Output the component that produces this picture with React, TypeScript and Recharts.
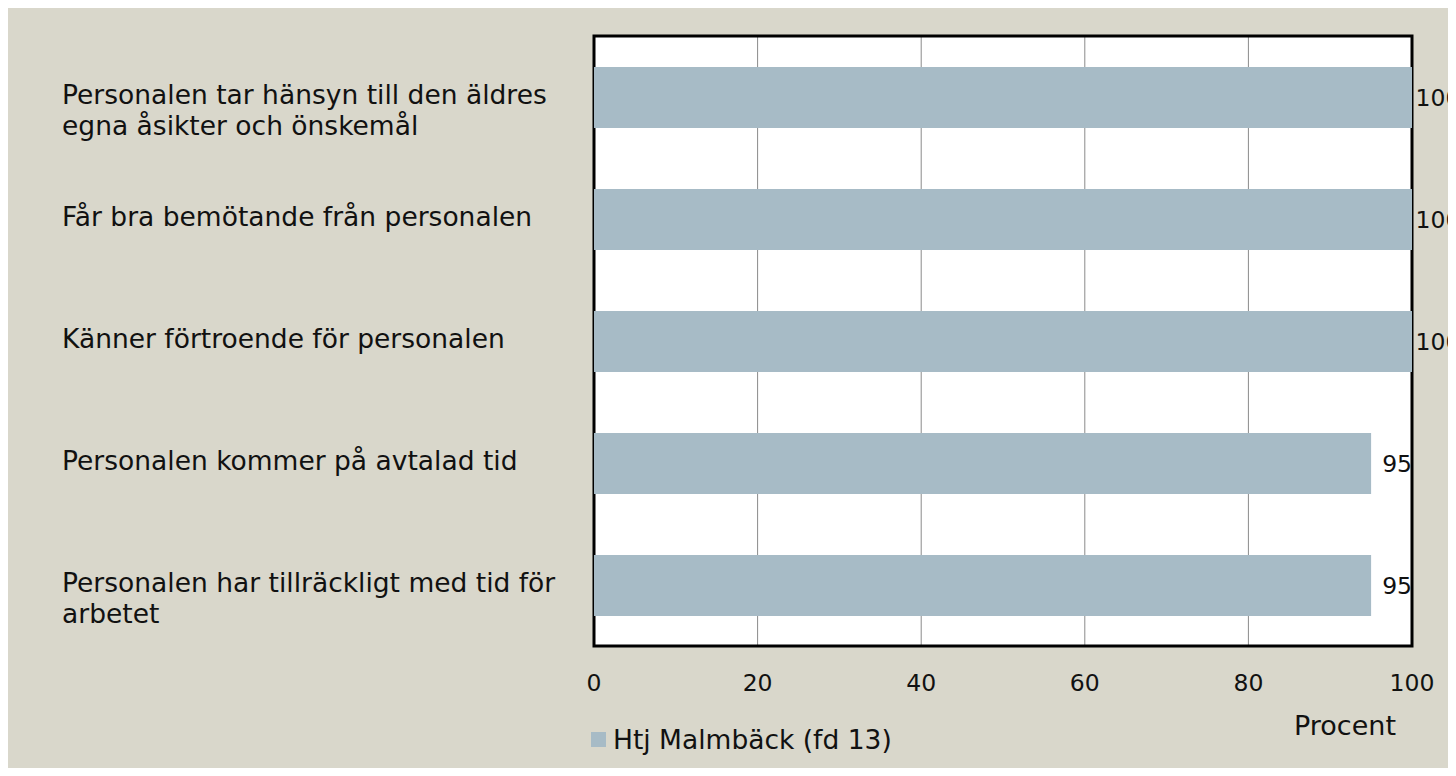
import React from "react";
import {
  BarChart,
  Bar,
  XAxis,
  YAxis,
  CartesianGrid,
  ReferenceArea,
  LabelList,
  Legend,
} from "recharts";

const categories = [
  "Personalen tar hänsyn till den äldres\negna åsikter och önskemål",
  "Får bra bemötande från personalen",
  "Känner förtroende för personalen",
  "Personalen kommer på avtalad tid",
  "Personalen har tillräckligt med tid för\narbetet",
];
const values = [100, 100, 100, 95, 95];
const xTicks = [0, 20, 40, 60, 80, 100];
const seriesName = "Htj Malmbäck (fd 13)";
const axisTitle = "Procent";

const FONT = "'Century Gothic', 'DejaVu Sans', sans-serif";
const BAR_COLOR = "#a7bbc6";
const BG = "#d9d7cb";

const data = categories.map((category, i) => ({ category, value: values[i] }));

// left-aligned wrapped category label; first line baseline sits just below the band centre
function CategoryTick(props: any) {
  const { y, payload } = props;
  const lines = String(payload.value).split("\n");
  return (
    <text x={54} y={y + 7} fontFamily={FONT} fontSize={26.5} fill="#111" textAnchor="start">
      {lines.map((line, i) => (
        <tspan key={i} x={54} dy={i === 0 ? 0 : 31}>
          {line}
        </tspan>
      ))}
    </text>
  );
}

function ValueTick(props: any) {
  const { x, y, payload } = props;
  return (
    <text x={x} y={y + 37} dy="0.35em" textAnchor="middle" fontFamily={FONT} fontSize={23.5} fill="#111">
      {payload.value}
    </text>
  );
}

// value label centred a fixed distance past the bar end
function BarValue(props: any) {
  const { x, y, width, height, value } = props;
  return (
    <text
      x={x + width + 26}
      y={y + height / 2}
      dy="0.35em"
      textAnchor="middle"
      fontFamily={FONT}
      fontSize={23.5}
      fill="#111"
    >
      {value}
    </text>
  );
}

function AxisTitle(props: any) {
  const { viewBox } = props;
  return (
    <text
      x={viewBox.x + viewBox.width - 67}
      y={viewBox.y + 80}
      dy="0.35em"
      textAnchor="middle"
      fontFamily={FONT}
      fontSize={27}
      fill="#111"
    >
      {axisTitle}
    </text>
  );
}

function LegendContent() {
  return (
    <div style={{ display: "flex", alignItems: "center", fontFamily: FONT, fontSize: 26.5, color: "#111" }}>
      <span style={{ width: 15, height: 15, background: BAR_COLOR, display: "inline-block", marginRight: 7 }} />
      <span>{seriesName}</span>
    </div>
  );
}

export default function App() {
  return (
    <div style={{ width: 1448, height: 760, background: BG, position: "relative" }}>
      {/* white plot background behind the svg */}
      <div style={{ position: "absolute", left: 586, top: 28, width: 818, height: 610, background: "#fff" }} />
      <div style={{ position: "absolute", left: 0, top: 0 }}>
        <BarChart
          width={1448}
          height={760}
          data={data}
          layout="vertical"
          margin={{ top: 28, right: 44, bottom: 62, left: 0 }}
        >
          <CartesianGrid horizontal={false} stroke="#8a8a8a" />
          <XAxis
            type="number"
            domain={[0, 100]}
            ticks={xTicks}
            axisLine={false}
            tickLine={false}
            tickSize={0}
            tickMargin={0}
            height={60}
            tick={<ValueTick />}
            label={<AxisTitle />}
          />
          <YAxis
            type="category"
            dataKey="category"
            width={586}
            axisLine={false}
            tickLine={false}
            interval={0}
            tick={<CategoryTick />}
          />
          <ReferenceArea x1={0} x2={100} fill="none" stroke="#000" strokeWidth={3} ifOverflow="visible" />
          <Bar dataKey="value" name={seriesName} fill={BAR_COLOR} barSize={61} isAnimationActive={false}>
            <LabelList dataKey="value" content={<BarValue />} />
          </Bar>
          <Legend
            layout="horizontal"
            verticalAlign="middle"
            align="center"
            content={<LegendContent />}
            wrapperStyle={{ left: 583, top: 716, width: "auto", height: "auto" }}
          />
        </BarChart>
      </div>
    </div>
  );
}
